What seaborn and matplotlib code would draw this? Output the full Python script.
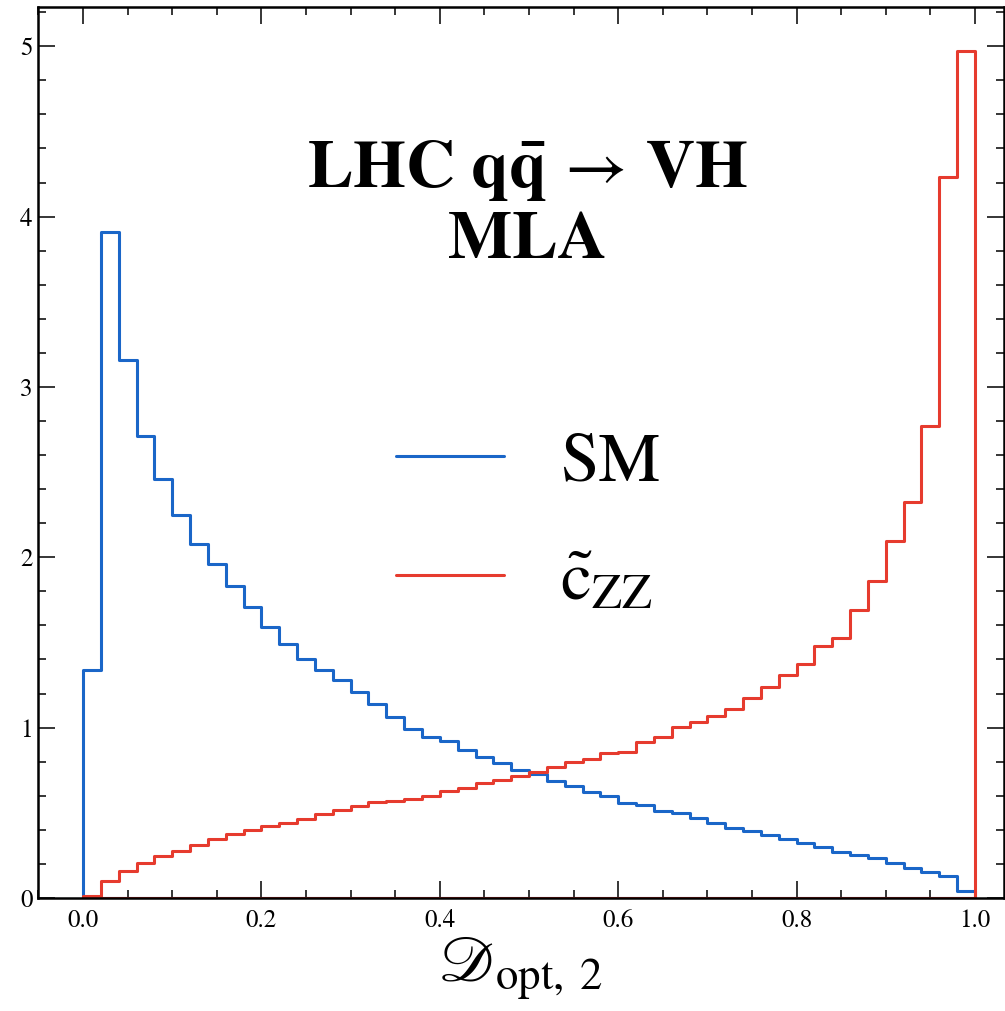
import numpy as np
import pandas as pd
import matplotlib
matplotlib.use("Agg")
import matplotlib.pyplot as plt
import seaborn as sns
from matplotlib.lines import Line2D
from matplotlib.ticker import MultipleLocator, FormatStrFormatter

# 50 bins on [0, 1], normalised heights
bin_edges = [round(0.02 * i, 2) for i in range(51)]

sm_heights = [
    1.34, 3.91, 3.16, 2.71, 2.46, 2.25, 2.08, 1.96, 1.83, 1.71,
    1.59, 1.49, 1.40, 1.34, 1.28, 1.21, 1.14, 1.06, 0.99, 0.945,
    0.92, 0.87, 0.83, 0.79, 0.75, 0.725, 0.685, 0.66, 0.62, 0.60,
    0.555, 0.545, 0.51, 0.50, 0.467, 0.438, 0.41, 0.393, 0.37, 0.346,
    0.325, 0.30, 0.272, 0.252, 0.233, 0.207, 0.174, 0.151, 0.129, 0.043,
]
czz_heights = [
    0.01, 0.10, 0.16, 0.204, 0.246, 0.278, 0.309, 0.344, 0.374, 0.399,
    0.423, 0.442, 0.463, 0.493, 0.516, 0.542, 0.562, 0.569, 0.579, 0.599,
    0.626, 0.647, 0.673, 0.692, 0.717, 0.739, 0.769, 0.798, 0.815, 0.849,
    0.858, 0.917, 0.945, 1.002, 1.032, 1.068, 1.107, 1.175, 1.240, 1.311,
    1.373, 1.477, 1.528, 1.690, 1.860, 2.095, 2.326, 2.772, 4.233, 4.97,
]

labels = ["SM", r"$\tilde{\mathrm{c}}_{\mathrm{ZZ}}$"]
colors = ["#1a66c8", "#e63b2e"]

centers = [0.5 * (a + b) for a, b in zip(bin_edges[:-1], bin_edges[1:])]
df = pd.DataFrame({
    "x": centers + centers,
    "h": sm_heights + czz_heights,
    "sample": ["SM"] * 50 + ["czz"] * 50,
})

sns.set_style("ticks")
plt.rcParams["font.family"] = ["STIXGeneral"]
plt.rcParams["mathtext.fontset"] = "stix"
plt.rcParams["text.color"] = "black"
plt.rcParams["axes.labelcolor"] = "black"
plt.rcParams["xtick.color"] = "black"
plt.rcParams["ytick.color"] = "black"

fig = plt.figure(figsize=(10.05, 10.11), dpi=100)
ax = fig.add_axes([0.0378, 0.1118, 0.9612, 0.8812])

for name, c in zip(["SM", "czz"], colors):
    sub = df[df["sample"] == name]
    sns.histplot(data=sub, x="x", weights="h", bins=bin_edges, element="step",
                 fill=True, color=c, facecolor="none", edgecolor=c, linewidth=2.2,
                 ax=ax)

ax.set_xlim(-0.0505, 1.0325)
ax.set_ylim(0, 5.23)

ax.xaxis.set_major_locator(MultipleLocator(0.2))
ax.xaxis.set_minor_locator(MultipleLocator(0.05))
ax.xaxis.set_major_formatter(FormatStrFormatter("%.1f"))
ax.yaxis.set_major_locator(MultipleLocator(1))
ax.yaxis.set_minor_locator(MultipleLocator(0.2))
ax.tick_params(which="both", direction="in", top=True, right=True, width=1.1,
               color="black", labelcolor="black")
ax.tick_params(which="major", length=12, labelsize=18)
ax.tick_params(axis="x", which="major", pad=8)
ax.tick_params(axis="y", which="major", pad=4)
ax.tick_params(which="minor", length=6)
for s in ax.spines.values():
    s.set_linewidth(1.8)
    s.set_color("black")

ax.set_xlabel(r"$\mathscr{D}_{\mathrm{opt,\;2}}$", fontsize=46, labelpad=1,
              color="black")
ax.set_ylabel("")

ax.text(0.507, 0.798, r"$\mathbf{LHC\ q\bar{q}}\,\rightarrow\,\mathbf{VH}$",
        transform=ax.transAxes, ha="center", va="baseline", fontsize=49,
        color="black")
ax.text(0.507, 0.718, "MLA", transform=ax.transAxes, ha="center", va="baseline",
        fontsize=49, fontweight="bold", color="black")

handles = [Line2D([], [], color=c, lw=2.2) for c in colors]
ax.legend(handles, labels, loc="center left", bbox_to_anchor=(0.3706, 0.421),
          frameon=False, fontsize=50, borderpad=0, borderaxespad=0,
          handlelength=1.56, handletextpad=0.80, labelspacing=0.8,
          labelcolor="black")

fig.savefig("out.png", dpi=100)
